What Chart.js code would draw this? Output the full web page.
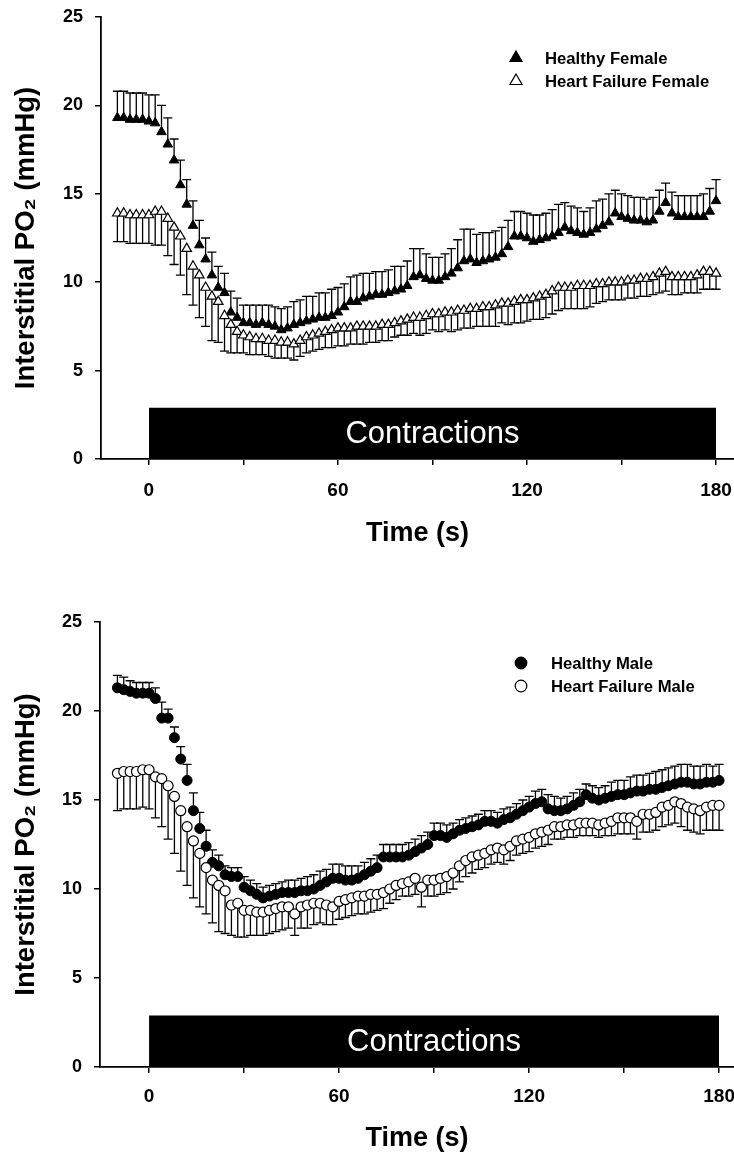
<!DOCTYPE html>
<html>
<head>
    <title>Interstitial PO2</title>
    <script src="https://cdn.jsdelivr.net/npm/chart.js"></script>
    <style>
        body {
            margin: 0;
            background-color: white;
            width: 734px;
            height: 1157px;
            overflow: hidden;
            position: relative;
        }

        canvas {
            position: absolute;
            left: 0;
        }

        #femaleChart { top: 0; }
        #maleChart { top: 580px; }
    </style>
</head>
<body>
    <canvas id="femaleChart" width="734" height="580"></canvas>
    <canvas id="maleChart" width="734" height="577"></canvas>

    <script>
        // time points (s), one every 2 s
        const times = [
            -10, -8, -6, -4, -2, 0, 2, 4, 6, 8, 10, 12,
            14, 16, 18, 20, 22, 24, 26, 28, 30, 32, 34, 36,
            38, 40, 42, 44, 46, 48, 50, 52, 54, 56, 58, 60,
            62, 64, 66, 68, 70, 72, 74, 76, 78, 80, 82, 84,
            86, 88, 90, 92, 94, 96, 98, 100, 102, 104, 106, 108,
            110, 112, 114, 116, 118, 120, 122, 124, 126, 128, 130, 132,
            134, 136, 138, 140, 142, 144, 146, 148, 150, 152, 154, 156,
            158, 160, 162, 164, 166, 168, 170, 172, 174, 176, 178, 180
        ];

        const healthyFemale = [
            19.3, 19.3, 19.2, 19.2, 19.2, 19.1, 19.0, 18.5, 17.8, 16.9, 15.5, 14.4,
            13.2, 12.1, 11.3, 10.4, 9.7, 9.4, 8.3, 8.0, 7.7, 7.7, 7.6, 7.7,
            7.6, 7.5, 7.3, 7.4, 7.6, 7.7, 7.8, 7.9, 8.0, 8.0, 8.1, 8.3,
            8.6, 8.9, 8.9, 9.1, 9.2, 9.3, 9.3, 9.4, 9.5, 9.6, 9.8, 10.3,
            10.4, 10.2, 10.1, 10.1, 10.3, 10.5, 10.8, 11.2, 11.3, 11.1, 11.2, 11.3,
            11.4, 11.6, 12.0, 12.6, 12.6, 12.5, 12.3, 12.4, 12.5, 12.6, 12.8, 13.1,
            12.9, 12.8, 12.7, 12.8, 13.0, 13.2, 13.4, 13.9, 13.7, 13.6, 13.5, 13.5,
            13.4, 13.5, 14.0, 14.5, 13.9, 13.7, 13.7, 13.7, 13.7, 13.7, 14.0, 14.6
        ];
        const healthyFemaleErr = [
            1.5, 1.5, 1.5, 1.5, 1.5, 1.5, 1.6, 1.5, 1.5, 1.2, 1.4, 1.4,
            1.4, 1.4, 1.2, 1.3, 1.2, 1.1, 1.2, 1.1, 1.0, 1.0, 1.1, 1.0,
            1.1, 1.1, 1.2, 1.2, 1.3, 1.3, 1.4, 1.3, 1.4, 1.4, 1.5, 1.4,
            1.3, 1.4, 1.5, 1.4, 1.3, 1.3, 1.3, 1.3, 1.4, 1.3, 1.4, 1.6,
            1.5, 1.4, 1.3, 1.3, 1.3, 1.4, 1.6, 1.8, 1.7, 1.6, 1.6, 1.5,
            1.5, 1.5, 1.5, 1.4, 1.4, 1.4, 1.5, 1.4, 1.4, 1.5, 1.6, 1.4,
            1.4, 1.4, 1.3, 1.4, 1.6, 1.5, 1.6, 1.3, 1.3, 1.3, 1.3, 1.3,
            1.3, 1.3, 1.2, 1.1, 1.2, 1.2, 1.2, 1.2, 1.2, 1.3, 1.3, 1.2
        ];

        const heartFailureFemale = [
            13.9, 13.9, 13.8, 13.8, 13.8, 13.8, 14.0, 14.0, 13.6, 13.1, 12.6, 11.9,
            10.9, 10.4, 9.7, 9.2, 8.9, 8.1, 7.6, 7.2, 7.0, 6.9, 6.8, 6.8,
            6.7, 6.7, 6.6, 6.6, 6.5, 6.7, 6.9, 7.0, 7.1, 7.2, 7.3, 7.4,
            7.4, 7.4, 7.5, 7.5, 7.5, 7.5, 7.6, 7.6, 7.7, 7.8, 7.9, 8.0,
            8.0, 8.1, 8.2, 8.2, 8.3, 8.3, 8.4, 8.4, 8.5, 8.5, 8.6, 8.6,
            8.7, 8.8, 8.8, 8.9, 9.0, 9.0, 9.1, 9.2, 9.3, 9.5, 9.7, 9.7,
            9.7, 9.8, 9.8, 9.8, 9.9, 9.9, 10.0, 10.0, 10.0, 10.1, 10.1, 10.2,
            10.2, 10.3, 10.5, 10.6, 10.3, 10.3, 10.3, 10.3, 10.4, 10.6, 10.6, 10.5
        ];
        const heartFailureFemaleErr = [
            1.6, 1.6, 1.6, 1.6, 1.6, 1.6, 1.9, 1.9, 2.1, 2.1, 2.2, 2.6,
            2.2, 2.4, 2.2, 2.5, 2.3, 2.0, 1.6, 1.2, 1.0, 1.0, 0.9, 0.9,
            0.9, 1.0, 0.9, 0.9, 0.9, 0.9, 0.9, 0.9, 0.9, 0.9, 1.0, 1.0,
            1.0, 0.9, 1.0, 1.0, 0.9, 0.9, 0.9, 0.9, 0.8, 0.8, 0.9, 0.9,
            1.0, 1.0, 0.9, 1.0, 1.0, 1.1, 1.1, 1.0, 1.1, 1.0, 1.1, 1.1,
            1.2, 1.1, 1.2, 1.2, 1.3, 1.2, 1.2, 1.3, 1.3, 1.3, 1.3, 1.2,
            1.2, 1.3, 1.3, 1.2, 1.1, 1.0, 1.0, 1.0, 1.0, 1.0, 1.0, 1.0,
            1.0, 1.0, 1.1, 1.1, 1.0, 1.0, 0.9, 0.9, 1.0, 1.0, 1.0, 0.9
        ];

        const healthyMale = [
            21.3, 21.2, 21.1, 21.0, 21.0, 21.0, 20.7, 19.6, 19.6, 18.5, 17.3, 16.1,
            14.4, 13.4, 12.4, 11.5, 11.3, 10.8, 10.7, 10.7, 10.1, 9.9, 9.7, 9.5,
            9.6, 9.7, 9.8, 9.8, 9.8, 9.9, 9.9, 10.0, 10.2, 10.4, 10.6, 10.6,
            10.5, 10.5, 10.6, 10.8, 11.0, 11.2, 11.8, 11.8, 11.8, 11.8, 11.9, 12.1,
            12.3, 12.5, 13.0, 13.0, 12.9, 13.1, 13.3, 13.4, 13.5, 13.6, 13.8, 13.8,
            13.7, 13.9, 14.0, 14.2, 14.4, 14.6, 14.8, 14.9, 14.5, 14.4, 14.4, 14.5,
            14.7, 14.9, 15.3, 15.1, 15.0, 15.1, 15.2, 15.3, 15.3, 15.4, 15.5, 15.5,
            15.6, 15.6, 15.7, 15.8, 15.9, 16.0, 16.0, 15.9, 15.9, 16.0, 16.0, 16.1
        ];
        const healthyMaleErr = [
            0.7, 0.7, 0.6, 0.6, 0.6, 0.6, 0.6, 0.9, 0.5, 0.6, 0.7, 0.9,
            1.0, 0.9, 0.9, 0.7, 0.6, 0.5, 0.5, 0.5, 0.6, 0.6, 0.6, 0.6,
            0.6, 0.6, 0.6, 0.7, 0.7, 0.7, 0.8, 0.8, 0.8, 0.7, 0.8, 0.8,
            0.8, 0.8, 0.7, 0.7, 0.7, 0.7, 0.7, 0.7, 0.7, 0.7, 0.7, 0.7,
            0.7, 0.7, 0.7, 0.7, 0.7, 0.6, 0.6, 0.6, 0.6, 0.6, 0.6, 0.6,
            0.6, 0.6, 0.6, 0.6, 0.6, 0.6, 0.7, 0.7, 0.8, 0.8, 0.7, 0.7,
            0.7, 0.7, 0.6, 0.7, 0.7, 0.7, 0.8, 0.8, 0.8, 0.9, 0.9, 0.9,
            0.9, 1.0, 1.0, 1.0, 1.0, 1.0, 1.0, 1.0, 1.0, 1.0, 0.9, 0.9
        ];

        const heartFailureMale = [
            16.5, 16.6, 16.6, 16.6, 16.7, 16.7, 16.3, 16.2, 15.8, 15.2, 14.4, 13.5,
            12.7, 12.0, 11.2, 10.5, 10.2, 9.9, 9.1, 9.2, 8.8, 8.8, 8.7, 8.7,
            8.8, 8.9, 9.0, 9.0, 8.6, 9.0, 9.1, 9.2, 9.2, 9.1, 9.0, 9.3,
            9.4, 9.5, 9.6, 9.6, 9.7, 9.7, 9.8, 10.0, 10.2, 10.3, 10.4, 10.6,
            10.1, 10.5, 10.5, 10.6, 10.7, 10.9, 11.3, 11.6, 11.8, 11.9, 12.0, 12.2,
            12.3, 12.2, 12.4, 12.7, 12.8, 12.9, 13.1, 13.2, 13.3, 13.5, 13.5, 13.6,
            13.6, 13.7, 13.7, 13.7, 13.6, 13.7, 13.8, 14.0, 14.0, 14.0, 13.8, 14.2,
            14.2, 14.3, 14.6, 14.7, 14.9, 14.8, 14.6, 14.5, 14.4, 14.6, 14.7, 14.7
        ];
        const heartFailureMaleErr = [
            2.1, 2.1, 2.1, 2.1, 2.1, 2.2, 2.3, 2.7, 3.0, 3.2, 3.4, 3.3,
            3.2, 3.0, 2.6, 2.4, 2.6, 2.4, 1.7, 1.9, 1.5, 1.4, 1.3, 1.3,
            1.3, 1.3, 1.3, 1.2, 1.2, 1.2, 1.3, 1.2, 1.1, 1.1, 1.0, 1.0,
            1.0, 1.0, 1.0, 1.0, 1.0, 0.9, 0.9, 0.8, 0.8, 0.7, 0.8, 0.9,
            1.1, 0.9, 0.9, 0.9, 0.9, 0.9, 0.9, 0.9, 0.9, 0.8, 0.8, 0.8,
            0.8, 0.8, 0.8, 0.8, 0.8, 0.8, 0.8, 0.8, 0.8, 0.7, 0.7, 0.7,
            0.7, 0.7, 0.7, 0.7, 0.7, 0.7, 0.8, 0.9, 0.9, 0.9, 1.0, 1.0,
            1.0, 1.0, 1.1, 1.1, 1.2, 1.3, 1.3, 1.3, 1.3, 1.3, 1.4, 1.4
        ];

        // contractions bar: start, end (s) and height (mmHg)
        const contractionTimes = [0, 180];
        const contractionTop = [2.9, 2.9];

        const xTicks = [0, 30, 60, 90, 120, 150, 180];
        const yTicks = [0, 5, 10, 15, 20, 25];

        const FONT = "'Liberation Sans', Arial, sans-serif";
        Chart.defaults.font.family = FONT;
        Chart.defaults.color = '#000';

        const toPoints = values => values.map((v, i) => ({ x: times[i], y: v }));

        // draws the SEM whiskers (one side only) behind the markers
        const errorBars = {
            id: 'errorBars',
            beforeDatasetsDraw(chart) {
                const ctx = chart.ctx;
                const xs = chart.scales.x, ys = chart.scales.y;
                chart.data.datasets.forEach(ds => {
                    if (!ds.errors) return;
                    ctx.save();
                    ctx.strokeStyle = '#000';
                    ctx.lineWidth = 1.3;
                    ds.data.forEach((p, i) => {
                        const px = xs.getPixelForValue(p.x);
                        const py0 = ys.getPixelForValue(p.y);
                        const py1 = ys.getPixelForValue(p.y + ds.errDir * ds.errors[i]);
                        ctx.beginPath();
                        ctx.moveTo(px, py0);
                        ctx.lineTo(px, py1);
                        ctx.moveTo(px - 4.5, py1);
                        ctx.lineTo(px + 4.5, py1);
                        ctx.stroke();
                    });
                    ctx.restore();
                });
            }
        };

        // "Contractions" text inside the black bar
        const barLabel = {
            id: 'barLabel',
            afterDatasetsDraw(chart) {
                const ctx = chart.ctx;
                const xs = chart.scales.x, ys = chart.scales.y;
                const cx = xs.getPixelForValue((contractionTimes[0] + contractionTimes[1]) / 2);
                const cy = ys.getPixelForValue(contractionTop[0] / 2);
                ctx.save();
                ctx.fillStyle = '#fff';
                ctx.font = '31px ' + FONT;
                ctx.textAlign = 'center';
                ctx.textBaseline = 'middle';
                ctx.fillText('Contractions', cx, cy + 1);
                ctx.restore();
            }
        };

        function drawMarker(ctx, style, filled, x, y, r) {
            ctx.beginPath();
            if (style === 'triangle') {
                ctx.moveTo(x, y - r);
                ctx.lineTo(x + r * 0.866, y + r * 0.5);
                ctx.lineTo(x - r * 0.866, y + r * 0.5);
                ctx.closePath();
            } else {
                ctx.arc(x, y, r, 0, Math.PI * 2);
            }
            ctx.fillStyle = filled ? '#000' : '#fff';
            ctx.fill();
            ctx.strokeStyle = '#000';
            ctx.lineWidth = 1.2;
            ctx.stroke();
        }

        // legend in the top right of the plot, markers aligned in a column
        const panelLegend = {
            id: 'panelLegend',
            afterDraw(chart, args, opts) {
                const ctx = chart.ctx;
                ctx.save();
                opts.items.forEach((item, i) => {
                    const y = opts.y + i * opts.gap;
                    drawMarker(ctx, item.style, item.filled, opts.x, y, opts.r);
                    ctx.fillStyle = '#000';
                    ctx.font = 'bold 16.7px ' + FONT;
                    ctx.textAlign = 'left';
                    ctx.textBaseline = 'middle';
                    ctx.fillText(item.text, opts.textX, y + 1);
                });
                ctx.restore();
            }
        };

        function makeChart(id, cfg) {
            return new Chart(document.getElementById(id), {
                type: 'scatter',
                data: {
                    datasets: [
                        {
                            type: 'line',
                            data: contractionTimes.map((t, i) => ({ x: t, y: contractionTop[i] })),
                            fill: 'origin',
                            backgroundColor: '#000',
                            borderWidth: 0,
                            pointRadius: 0,
                            order: 3
                        },
                        {
                            label: cfg.labels[0],
                            data: toPoints(cfg.healthy),
                            errors: cfg.healthyErr,
                            errDir: 1,
                            pointStyle: cfg.style,
                            pointRadius: cfg.radius,
                            pointBackgroundColor: '#000',
                            pointBorderColor: '#000',
                            pointBorderWidth: 1,
                            order: 2
                        },
                        {
                            label: cfg.labels[1],
                            data: toPoints(cfg.failure),
                            errors: cfg.failureErr,
                            errDir: -1,
                            pointStyle: cfg.style,
                            pointRadius: cfg.radius,
                            pointBackgroundColor: '#fff',
                            pointBorderColor: '#000',
                            pointBorderWidth: 1.2,
                            order: 1
                        }
                    ]
                },
                options: {
                    responsive: false,
                    animation: false,
                    layout: {
                        autoPadding: false,
                        padding: { top: cfg.padTop, left: 0, right: 0, bottom: 0 }
                    },
                    plugins: {
                        legend: { display: false },
                        tooltip: { enabled: false },
                        panelLegend: {
                            x: cfg.legendX, y: cfg.legendY, textX: cfg.legendTextX, gap: 23, r: cfg.legendR,
                            items: [
                                { text: cfg.labels[0], style: cfg.style, filled: true },
                                { text: cfg.labels[1], style: cfg.style, filled: false }
                            ]
                        }
                    },
                    scales: {
                        x: {
                            type: 'linear',
                            min: cfg.xMin,
                            max: cfg.xMax,
                            afterBuildTicks: s => { s.ticks = xTicks.map(v => ({ value: v })); },
                            afterFit: s => {
                                s.height = cfg.xHeight;
                                s.paddingLeft = 0;
                                s.paddingRight = 0;
                            },
                            ticks: {
                                callback: v => (v % 60 === 0 ? v : ''),
                                font: { size: 19, weight: 'bold' },
                                color: '#000',
                                padding: cfg.xTickPad,
                                maxRotation: 0,
                                autoSkip: false
                            },
                            grid: { drawOnChartArea: false, tickLength: 6, color: '#000', lineWidth: 1.5 },
                            border: { color: '#000', width: 1.8 },
                            title: {
                                display: true,
                                text: 'Time (s)',
                                font: { size: 27, weight: 'bold' },
                                color: '#000',
                                padding: { top: 0, bottom: cfg.xTitlePad }
                            }
                        },
                        y: {
                            min: 0,
                            max: 25,
                            afterBuildTicks: s => { s.ticks = yTicks.map(v => ({ value: v })); },
                            afterFit: s => {
                                s.width = cfg.yWidth;
                                s.paddingTop = 0;
                                s.paddingBottom = 0;
                            },
                            ticks: {
                                font: { size: 18, weight: 'bold' },
                                color: '#000',
                                padding: 12
                            },
                            grid: { drawOnChartArea: false, tickLength: 6, color: '#000', lineWidth: 1.5 },
                            border: { color: '#000', width: 1.8 },
                            title: {
                                display: true,
                                text: 'Interstitial PO\u2082 (mmHg)',
                                font: { size: 27.5, weight: 'bold' },
                                color: '#000',
                                padding: { top: 10, bottom: 0 }
                            }
                        }
                    }
                },
                plugins: [errorBars, barLabel, panelLegend]
            });
        }

        // Female panel
        makeChart('femaleChart', {
            labels: ['Healthy Female', 'Heart Failure Female'],
            healthy: healthyFemale, healthyErr: healthyFemaleErr,
            failure: heartFailureFemale, failureErr: heartFailureFemaleErr,
            style: 'triangle', radius: 5.5, legendR: 7,
            xMin: -15.2, xMax: 185.7,
            padTop: 17, xHeight: 121, yWidth: 101,
            xTickPad: 14, xTitlePad: 30,
            legendX: 516, legendY: 58, legendTextX: 545
        });

        // Male panel
        makeChart('maleChart', {
            labels: ['Healthy Male', 'Heart Failure Male'],
            healthy: healthyMale, healthyErr: healthyMaleErr,
            failure: heartFailureMale, failureErr: heartFailureMaleErr,
            style: 'circle', radius: 5, legendR: 5.8,
            xMin: -15.5, xMax: 184.7,
            padTop: 42, xHeight: 90, yWidth: 100,
            xTickPad: 12, xTitlePad: 2,
            legendX: 521, legendY: 83, legendTextX: 551
        });
    </script>
</body>
</html>
